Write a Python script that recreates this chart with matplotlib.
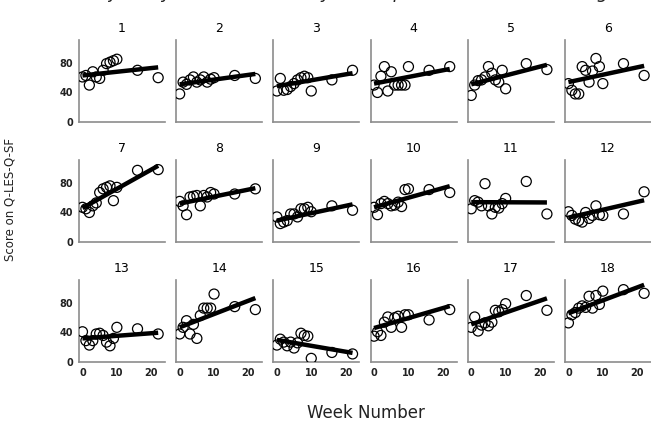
import numpy as np
import matplotlib
matplotlib.use("Agg")
import matplotlib.pyplot as plt

weeks = [0, 1, 2, 3, 4, 5, 6, 7, 8, 9, 10, 16, 22]

# Q-LES-Q-SF scores per participant (one list per panel, one value per week)
scores = {
    1: [61, 63, 50, 68, 61, 59, 70, 79, 81, 83, 85, 70, 60],
    2: [38, 54, 51, 57, 61, 54, 57, 61, 54, 58, 60, 63, 59],
    3: [42, 59, 43, 44, 48, 52, 57, 60, 62, 60, 42, 57, 70],
    4: [50, 40, 62, 75, 42, 68, 50, 50, 50, 50, 75, 70, 75],
    5: [36, 50, 56, 57, 61, 75, 66, 57, 54, 70, 45, 79, 71],
    6: [52, 43, 38, 38, 75, 70, 54, 69, 86, 75, 52, 79, 63],
    7: [47, 45, 40, 49, 53, 67, 72, 74, 76, 56, 74, 97, 98],
    8: [55, 49, 37, 61, 62, 63, 49, 63, 61, 67, 65, 65, 72],
    9: [34, 25, 27, 29, 38, 38, 34, 45, 45, 47, 41, 49, 43],
    10: [47, 37, 52, 55, 52, 49, 50, 54, 48, 71, 72, 71, 67],
    11: [45, 56, 54, 49, 79, 49, 38, 47, 46, 52, 59, 82, 38],
    12: [41, 36, 31, 29, 27, 40, 32, 36, 49, 37, 36, 38, 68],
    13: [41, 29, 23, 29, 38, 39, 36, 27, 22, 32, 47, 45, 38],
    14: [38, 47, 56, 38, 51, 32, 63, 73, 73, 73, 92, 75, 71],
    15: [23, 31, 27, 22, 27, 19, 26, 39, 36, 35, 5, 13, 11],
    16: [35, 41, 36, 54, 61, 47, 60, 62, 47, 64, 64, 57, 71],
    17: [47, 61, 42, 50, 53, 49, 54, 70, 68, 71, 79, 90, 70],
    18: [53, 64, 67, 73, 76, 74, 89, 73, 90, 78, 96, 98, 93],
}

# fitted intercept / slope for each participant's trend line
intercepts = [63, 51, 48.5, 52, 51, 54, 46, 52, 29, 47, 54, 33, 32, 47, 30, 46, 51, 66]
slopes = [0.5, 0.64, 0.8, 0.9, 1.2, 1.0, 2.6, 0.95, 1.0, 1.3, -0.02, 1.07,
          0.35, 1.8, -0.8, 1.35, 1.6, 1.75]

fig, axes = plt.subplots(3, 6, figsize=(6.51, 4.21), dpi=100, sharex=True, sharey=True)
plt.subplots_adjust(left=0.1214, right=1.0, top=0.905, bottom=0.140,
                    wspace=0.13, hspace=0.463)

x = np.array(weeks)
for i, ax in enumerate(axes.flat):
    pid = i + 1
    ax.scatter(weeks, scores[pid], s=52, facecolors="none", edgecolors="black",
               linewidths=0.9, zorder=3)
    xl = np.array([x.min(), x.max()])
    ax.plot(xl, intercepts[i] + slopes[i] * xl, color="black", lw=3.2,
            solid_capstyle="butt", zorder=4)
    ax.set_title(str(pid), fontsize=9, pad=6)
    ax.set_xlim(-1, 24)
    ax.set_ylim(0, 111)
    ax.set_xticks([0, 10, 20])
    ax.set_yticks([0, 40, 80])
    for side in ["top", "right"]:
        ax.spines[side].set_visible(False)
    for side in ["left", "bottom"]:
        ax.spines[side].set_color("#8c8c8c")
        ax.spines[side].set_linewidth(1.2)
    ax.tick_params(length=0, labelsize=7, pad=4, colors="#222222")
    for lab in ax.get_xticklabels() + ax.get_yticklabels():
        lab.set_fontweight("bold")

fig.text(0.016, 0.525, "Score on Q-LES-Q-SF", rotation=90, ha="center",
         va="center", fontsize=8.5, color="#222222")
fig.text(0.562, 0.02, "Week Number", ha="center", va="center",
         fontsize=12, color="#222222")
fig.text(0.53, 1.004, "Trajectory of Q-LES-Q-SF by Participant, Week, and Timing",
         ha="center", va="baseline", fontsize=13, style="italic", color="#222222")

fig.savefig("out.png", dpi=100)
